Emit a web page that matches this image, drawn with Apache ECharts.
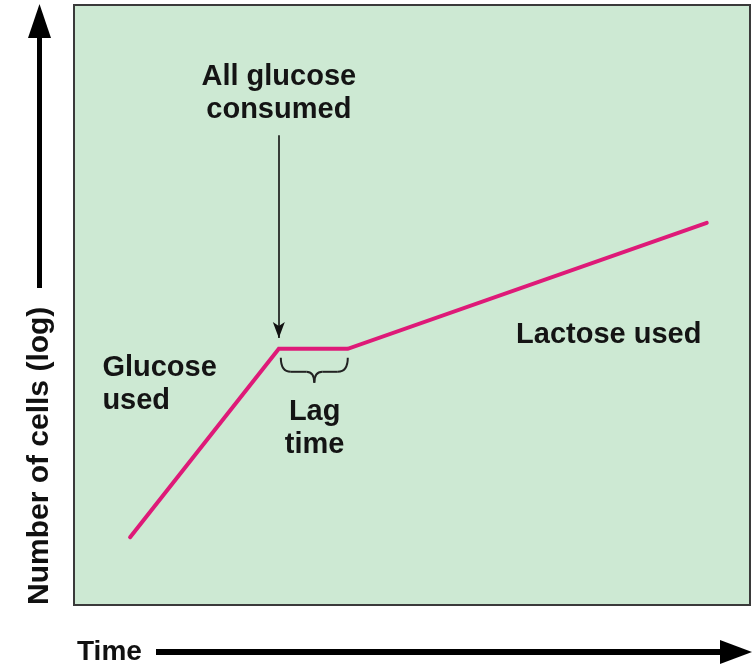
<!DOCTYPE html>
<html>
<head>
<meta charset="utf-8">
<script src="https://cdn.jsdelivr.net/npm/echarts@6/dist/echarts.min.js"></script>
<style>
  html, body { margin: 0; padding: 0; background: #fff; }
  #main { width: 755px; height: 668px; }
</style>
</head>
<body>
<div id="main"></div>
<script>
// growth curve: glucose phase, lag, lactose phase (time, log cells; arbitrary units)
const timeVals = [8.3, 30.3, 40.5, 93.6];
const logCells = [11.3, 42.7, 42.7, 63.7];

// annotation anchors in data units
const arrowFrom = [30.3, 78.3];
const arrowTo = [30.3, 44.5];
const labels = [
  { text: 'All glucose\nconsumed', at: [30.3, 90.7], align: 'center' },
  { text: 'Glucose\nused', at: [4.2, 42.2], align: 'left' },
  { text: 'Lag\ntime', at: [35.6, 35.0], align: 'center' },
  { text: 'Lactose used', at: [65.4, 47.7], align: 'left' }
];

const font = '"Liberation Sans", Arial, Helvetica, sans-serif';
const lineColor = '#de1a78';

const chart = echarts.init(document.getElementById('main'), null, { renderer: 'canvas' });

chart.setOption({
  animation: false,
  grid: {
    left: 74, right: 5, top: 5, bottom: 63,
    show: true,
    backgroundColor: '#cde9d3',
    borderColor: '#3a3a3a',
    borderWidth: 2
  },
  xAxis: {
    type: 'value', min: 0, max: 100,
    axisLine: { show: false }, axisTick: { show: false },
    axisLabel: { show: false }, splitLine: { show: false }
  },
  yAxis: {
    type: 'value', min: 0, max: 100,
    axisLine: { show: false }, axisTick: { show: false },
    axisLabel: { show: false }, splitLine: { show: false }
  },
  series: [{
    type: 'line',
    data: timeVals.map((t, i) => [t, logCells[i]]),
    symbol: 'none',
    lineStyle: { color: lineColor, width: 4, cap: 'round', join: 'miter' },
    markLine: {
      silent: true,
      symbol: ['none', 'arrow'],
      symbolSize: [9, 16],
      label: { show: false },
      lineStyle: { color: '#111', width: 1.6, type: 'solid' },
      data: [[{ coord: arrowFrom }, { coord: arrowTo }]]
    }
  }]
});

// annotations placed through the chart's own scales
const px = p => chart.convertToPixel({ gridIndex: 0 }, p);
const graphics = [];

labels.forEach(l => {
  const p = px(l.at);
  graphics.push({
    type: 'text', x: p[0], y: p[1],
    style: {
      text: l.text, fill: '#141414', align: l.align, verticalAlign: 'top',
      font: 'bold 29px ' + font, lineHeight: 33
    }
  });
});

// lag-time brace under the flat segment
const b1 = px([timeVals[1], logCells[1]]);
const b2 = px([timeVals[2], logCells[2]]);
const x1 = b1[0] + 2, x2 = b2[0], y0 = b1[1] + 9, mid = (x1 + x2) / 2, yb = y0 + 14;
const braceStyle = { fill: null, stroke: '#222', lineWidth: 2 };
[
  { x1: x1, y1: y0, x2: x1 + 10, y2: yb, cpx1: x1, cpy1: yb },
  { x1: mid - 8, y1: yb, x2: mid, y2: yb + 11, cpx1: mid, cpy1: yb },
  { x1: mid, y1: yb + 11, x2: mid + 8, y2: yb, cpx1: mid, cpy1: yb },
  { x1: x2 - 10, y1: yb, x2: x2, y2: y0, cpx1: x2, cpy1: yb }
].forEach(s => graphics.push({ type: 'bezierCurve', shape: s, style: braceStyle }));
graphics.push(
  { type: 'line', shape: { x1: x1 + 10, y1: yb, x2: mid - 8, y2: yb }, style: braceStyle },
  { type: 'line', shape: { x1: mid + 8, y1: yb, x2: x2 - 10, y2: yb }, style: braceStyle }
);

// outer axis arrows and titles
graphics.push(
  { type: 'rect', shape: { x: 37, y: 30, width: 5, height: 258 }, style: { fill: '#000' } },
  { type: 'polygon', shape: { points: [[39.5, 4], [28, 38], [51, 38]] }, style: { fill: '#000' } },
  {
    type: 'text', x: 40, y: 605, rotation: Math.PI / 2,
    style: {
      text: 'Number of cells (log)', fill: '#111', align: 'left', verticalAlign: 'middle',
      font: 'bold 30px ' + font
    }
  },
  {
    type: 'text', x: 77, y: 652,
    style: { text: 'Time', fill: '#111', align: 'left', verticalAlign: 'middle', font: 'bold 28px ' + font }
  },
  { type: 'rect', shape: { x: 156, y: 649, width: 572, height: 6 }, style: { fill: '#000' } },
  { type: 'polygon', shape: { points: [[752, 652], [720, 640], [720, 664]] }, style: { fill: '#000' } }
);

chart.setOption({ graphic: graphics });
</script>
</body>
</html>
